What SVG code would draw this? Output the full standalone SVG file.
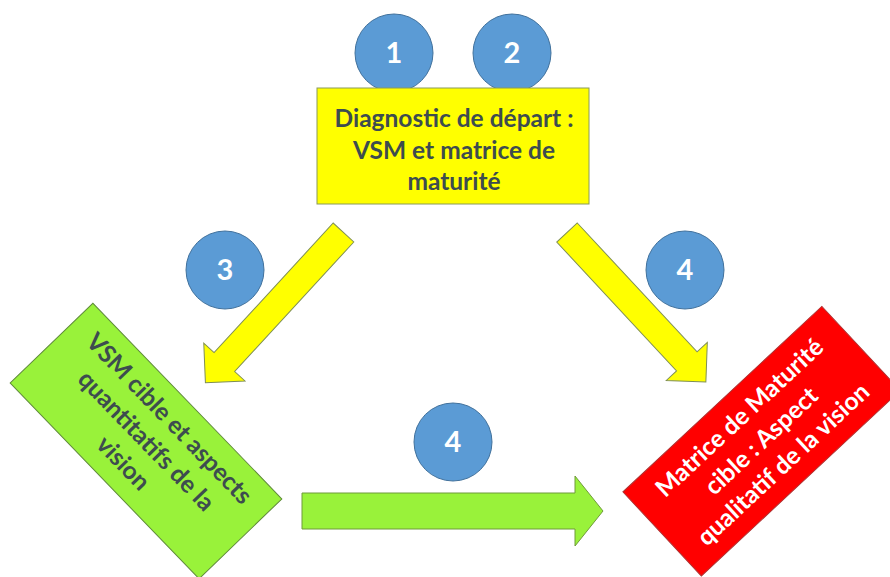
<svg xmlns="http://www.w3.org/2000/svg" width="890" height="577" viewBox="0 0 890 577">
<style>
.t{font-family:Lato,"Open Sans","Liberation Sans",sans-serif;font-weight:bold;font-size:24.5px;text-anchor:middle}
.dark{fill:#3d4c4f}
.white{fill:#ffffff}
.num{font-family:Lato,"Open Sans","Liberation Sans",sans-serif;font-weight:bold;font-size:29px;fill:#ffffff;text-anchor:middle}
.circ{fill:#5b9bd5;stroke:#41719c;stroke-width:1}
.ya{fill:#ffff00;stroke:#7f8f55;stroke-width:1}
.ga{fill:#99f23a;stroke:#6f9a3a;stroke-width:1}
</style>
<rect width="890" height="577" fill="#ffffff"/>
<g id="connectors">
  <polygon class="ya" transform="translate(343.5,232.5) rotate(132.6)" points="0,-14 176,-14 176,-28 204,0 176,28 176,14 0,14"/>
  <polygon class="ya" transform="translate(567,232.5) rotate(47.1)" points="0,-14 176,-14 176,-28 204,0 176,28 176,14 0,14"/>
  <polygon class="ga" points="302,493 575,493 575,476 603,511 575,546 575,529 302,529"/>
</g>
<g id="badge1"><circle class="circ" cx="394" cy="53" r="39"/><text class="num" x="394" y="63">1</text></g>
<g id="badge2"><circle class="circ" cx="512" cy="53" r="39"/><text class="num" x="512" y="63">2</text></g>
<g id="node-diagnostic">
  <rect x="317" y="88" width="272" height="116" fill="#ffff00" stroke="#8a9a5b" stroke-width="1"/>
  <text class="t dark" x="454" y="127">Diagnostic de départ :</text>
  <text class="t dark" x="454" y="159">VSM et matrice de</text>
  <text class="t dark" x="454" y="190">maturité</text>
</g>
<g id="badge3"><circle class="circ" cx="225" cy="270" r="39"/><text class="num" x="225" y="280">3</text></g>
<g id="badge4a"><circle class="circ" cx="685" cy="270" r="39"/><text class="num" x="685" y="280">4</text></g>
<g id="badge4b"><circle class="circ" cx="453" cy="442" r="39"/><text class="num" x="453" y="452">4</text></g>
<g id="node-vsm" transform="translate(146,441) rotate(46)">
  <rect x="-136" y="-57.5" width="272" height="115" fill="#99f23a" stroke="#5f8a3a" stroke-width="1"/>
  <text class="t dark" x="0" y="-24">VSM cible et aspects</text>
  <text class="t dark" x="0" y="8">quantitatifs de la</text>
  <text class="t dark" x="0" y="40">vision</text>
</g>
<g id="node-matrice" transform="translate(761.6,441.2) rotate(-43)">
  <rect x="-136" y="-57.5" width="272" height="115" fill="#ff0000" stroke="#b03030" stroke-width="1"/>
  <text class="t white" x="0" y="-24">Matrice de Maturité</text>
  <text class="t white" x="0" y="8">cible : Aspect</text>
  <text class="t white" x="0" y="40">qualitatif de la vision</text>
</g>
</svg>
